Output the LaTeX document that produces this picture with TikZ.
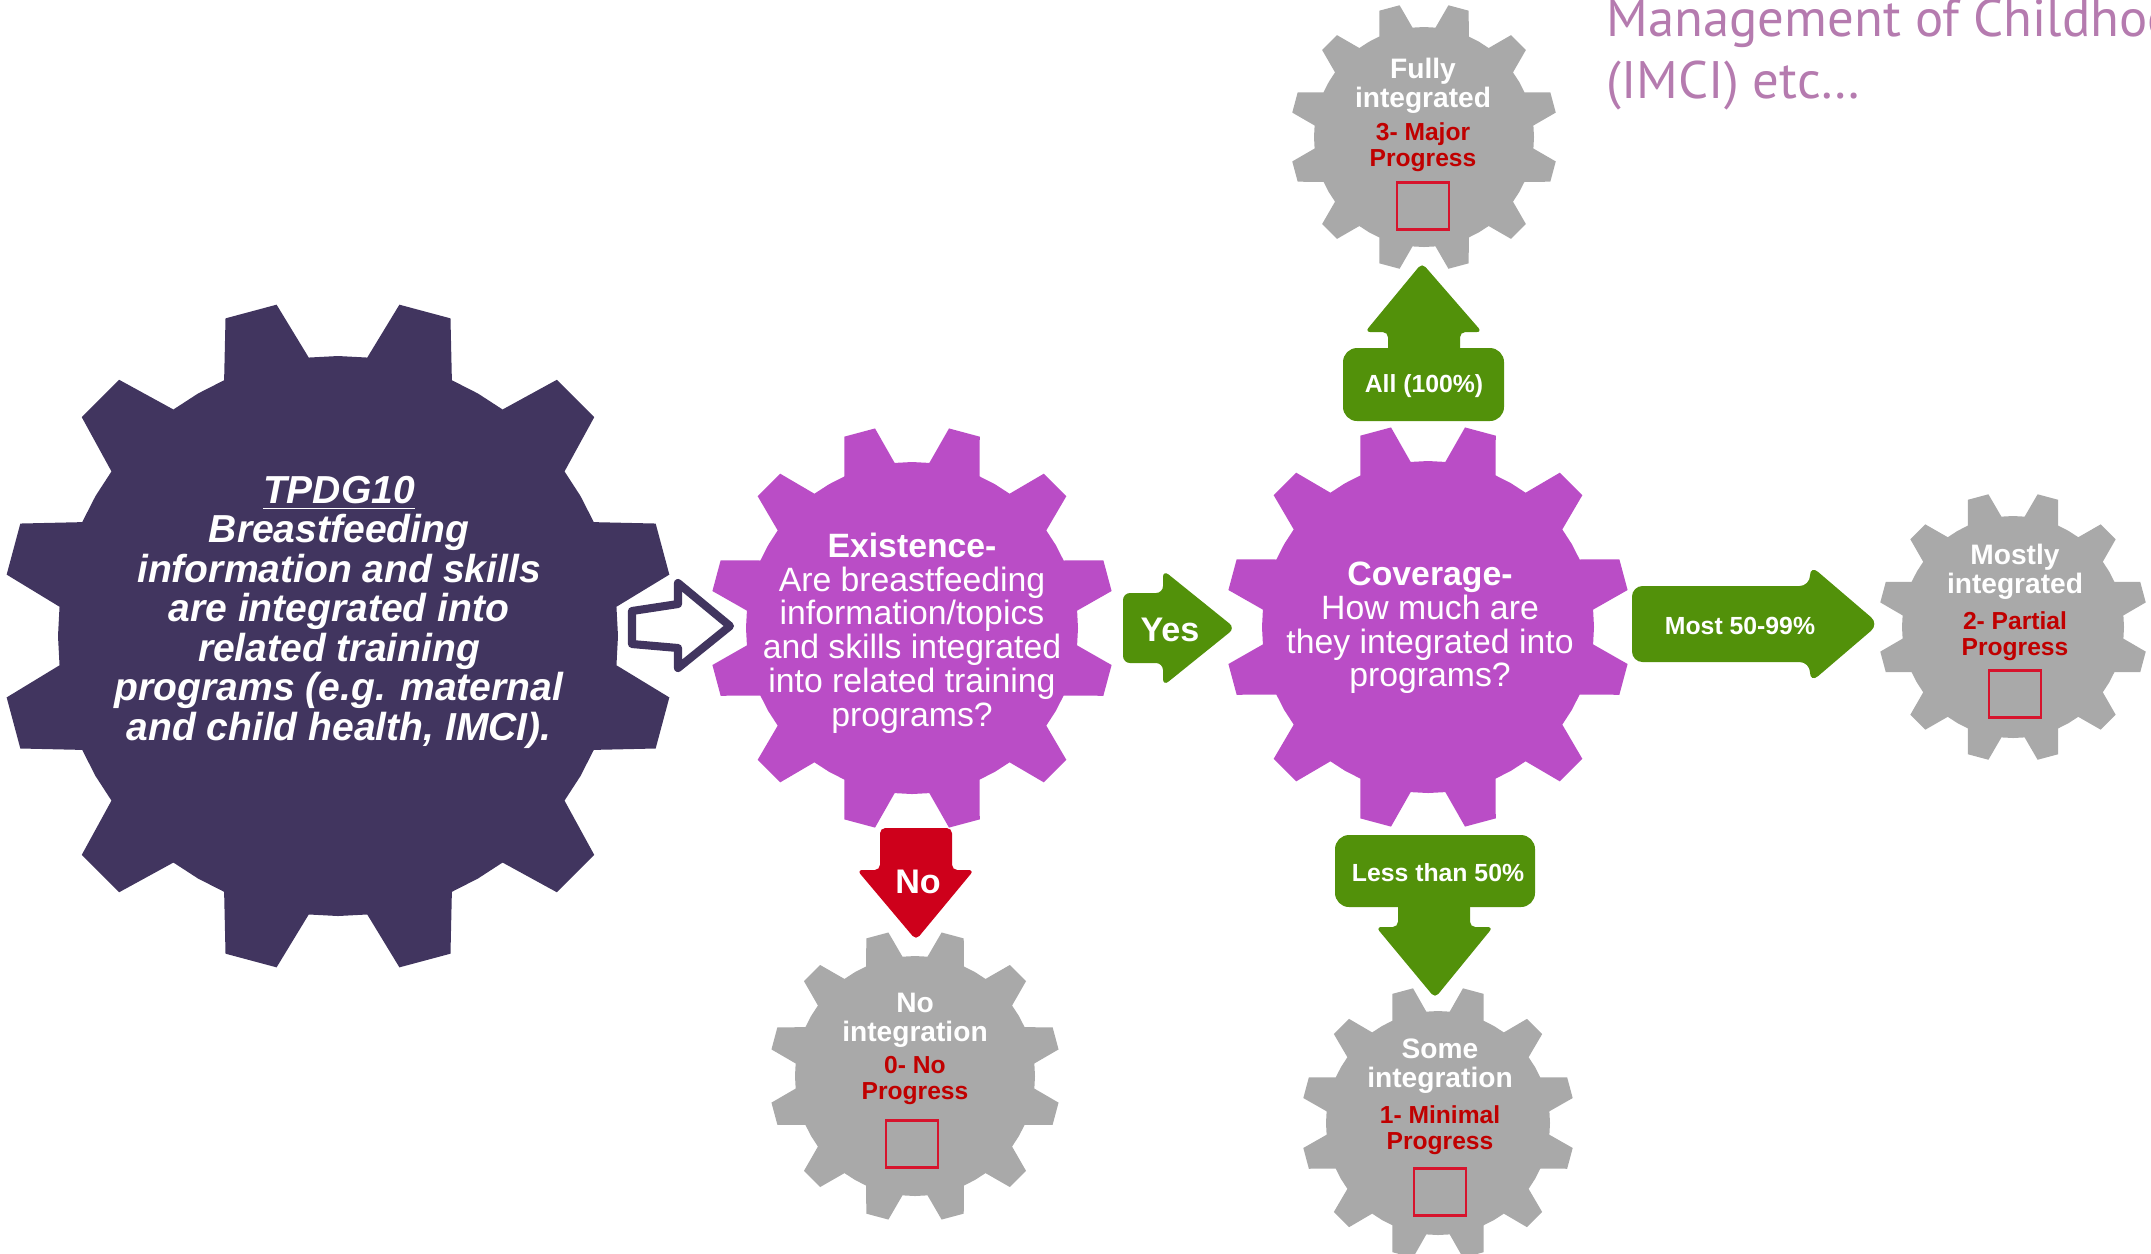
\documentclass[tikz,border=0pt]{standalone}
\usepackage{fontspec}
\setmainfont{Liberation Sans}
\newfontfamily\mgfont{PT Sans}
\definecolor{bigpurple}{RGB}{65,53,95}
\definecolor{midpurple}{RGB}{186,77,198}
\definecolor{geargray}{RGB}{169,169,169}
\definecolor{arrgreen}{RGB}{82,145,10}
\definecolor{arrred}{RGB}{206,0,27}
\definecolor{progred}{RGB}{192,0,0}
\definecolor{boxred}{RGB}{215,20,45}
\definecolor{mauve}{RGB}{181,123,175}
\newcommand{\gearat}[4]{% center, R, r, colour
  \begin{scope}[shift={(#1)}]
  \fill[#4] (6:#3) \foreach \k in {0,...,11}{ -- ({15+30*\k-9}:#3) -- ({15+30*\k-4.5}:#2) -- ({15+30*\k+4.5}:#2) -- ({15+30*\k+9}:#3) -- ({15+30*\k+15}:#3)} -- cycle;
  \end{scope}}
\begin{document}
\begin{tikzpicture}[x=0.01cm,y=-0.01cm,
  gtxt/.style={text=white, font=\bfseries\fontsize{8}{8.25}\selectfont, align=center, inner sep=0pt},
  rtxt/.style={text=progred, font=\bfseries\fontsize{7}{7.4}\selectfont, align=center, inner sep=0pt},
  chk/.style={draw=boxred, line width=0.7pt, minimum width=0.52cm, minimum height=0.47cm, inner sep=0pt},
  qtxt/.style={text=white, font=\fontsize{9.6}{9.6}\selectfont, align=center, inner sep=0pt},
  arrtxt/.style={text=white, font=\bfseries\fontsize{7.05}{7.05}\selectfont, inner sep=0pt},
  bigarrtxt/.style={text=white, font=\bfseries\fontsize{9.7}{9.7}\selectfont, inner sep=0pt}
]
\path[use as bounding box] (0,0) rectangle (2151,1253);
\clip (0,0) rectangle (2151,1253);

% gear centres
\coordinate (gBig) at (338,636);
\coordinate (gExist) at (912,628);
\coordinate (gCover) at (1428,627);
\coordinate (gFully) at (1424,137);
\coordinate (gMostly) at (2013,627);
\coordinate (gNo) at (915,1076);
\coordinate (gSome) at (1438,1123);

\gearat{gBig}{337}{280}{bigpurple}
\gearat{gExist}{203}{166}{midpurple}
\gearat{gCover}{203}{166}{midpurple}
\gearat{gFully}{134}{110}{geargray}
\gearat{gMostly}{135}{111}{geargray}
\gearat{gNo}{146}{120}{geargray}
\gearat{gSome}{137}{112}{geargray}

% texts in gears
\node[text=white, font=\bfseries\itshape\fontsize{11.1}{11.24}\selectfont, align=center, inner sep=0pt] (tBig) at (339,612)
  {\underline{TPDG10}\\Breastfeeding\\information and skills\\are integrated into\\related training\\programs (e.g. maternal\\and child health, IMCI).};
\node[qtxt] (tExist) at (912,633) {\textbf{Existence-}\\Are breastfeeding\\information/topics\\and skills integrated\\into related training\\programs?};
\node[qtxt] (tCover) at (1430,628) {\textbf{Coverage-}\\How much are\\they integrated into\\programs?};

\node[gtxt] (wFully) at (1423,86) {Fully\\integrated};
\node[rtxt] (rFully) at (1423,147) {3- Major\\Progress};
\node[chk] (cFully) at (1423,206) {};

\node[gtxt] (wMostly) at (2015,572) {Mostly\\integrated};
\node[rtxt] (rMostly) at (2015,636) {2- Partial\\Progress};
\node[chk] (cMostly) at (2015,694) {};

\node[gtxt] (wNo) at (915,1020) {No\\integration};
\node[rtxt] (rNo) at (915,1080) {0- No\\Progress};
\node[chk] (cNo) at (912,1144) {};

\node[gtxt] (wSome) at (1440,1066) {Some\\integration};
\node[rtxt] (rSome) at (1440,1130) {1- Minimal\\Progress};
\node[chk] (cSome) at (1440,1192) {};

% hollow arrow
\draw[bigpurple, line width=2.3pt, line join=round, fill=white]
  (632,611) -- (678,604) -- (678,583) -- (730,626) -- (678,668) -- (678,648) -- (632,644) -- cycle;

% Yes arrow
\fill[arrgreen, rounded corners=2pt] (1123,628) -- (1123,593) -- (1163,593) -- (1163,570) -- (1235,628) -- (1163,686) -- (1163,663) -- (1123,663) -- cycle;
\node[bigarrtxt] (lYes) at (1170,630) {Yes};

% No arrow
\fill[arrred, rounded corners=1.5pt] (916,828) -- (952,828) -- (952,870) -- (974,870) -- (916,940) -- (857,870) -- (880,870) -- (880,828) -- cycle;
\node[bigarrtxt] (lNo) at (918,882) {No};

% Most arrow
\fill[arrgreen, rounded corners=3pt] (1632,624) -- (1632,586) -- (1810,586) -- (1810,565) -- (1879,624) -- (1810,683) -- (1810,662) -- (1632,662) -- cycle;
\node[arrtxt] (lMost) at (1740,626) {Most 50-99\%};

% All arrow (up)
\fill[arrgreen, rounded corners=4pt] (1343,348) rectangle (1504,421);
\fill[arrgreen, rounded corners=1.5pt] (1388,360) -- (1388,332) -- (1365,332) -- (1422,263) -- (1482,332) -- (1460,332) -- (1460,360) -- cycle;
\node[arrtxt] (lAll) at (1424,386) {All (100\%)};

% Less arrow (down)
\fill[arrgreen, rounded corners=4pt] (1335,835) rectangle (1535,907);
\fill[arrgreen, rounded corners=1.5pt] (1398,895) -- (1398,927) -- (1376,927) -- (1435,998) -- (1493,927) -- (1470,927) -- (1470,895) -- cycle;
\node[arrtxt] (lLess) at (1438,873) {Less than 50\%};

% top-right text (cut at the right edge, as in the reference)
\node[anchor=base west, inner sep=0pt, text=mauve, font=\mgfont\fontsize{15}{15}\selectfont] (mg1) at (1606,36) {Management of Childhood};
\node[anchor=base west, inner sep=0pt, text=mauve, font=\mgfont\fontsize{15}{15}\selectfont] (mg2) at (1606,98) {(IMCI) etc…};
\end{tikzpicture}
\end{document}
